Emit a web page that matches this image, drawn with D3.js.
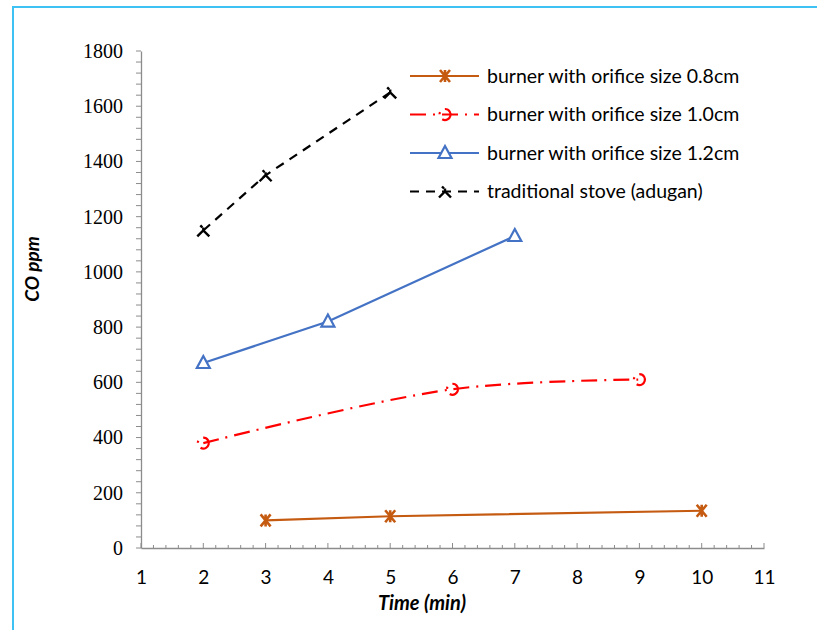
<!DOCTYPE html>
<html>
<head>
<meta charset="utf-8">
<script src="https://cdn.jsdelivr.net/npm/d3@7"></script>
<style>
  body { margin: 0; background: #fff; }
  text { fill: #000; }
</style>
</head>
<body>
<div id="chart"></div>
<script>
// values
var seriesNames = ["burner with orifice size 0.8cm", "burner with orifice size 1.0cm",
                   "burner with orifice size 1.2cm", "traditional stove (adugan)"];
var time08 = [3, 5, 10];
var co08 = [100, 115, 135];
var time10 = [2, 6, 9];
var co10 = [380, 575, 610];
var time12 = [2, 4, 7];
var co12 = [670, 820, 1130];
var timeTrad = [2, 3, 5];
var coTrad = [1150, 1350, 1650];
var xTicks = [1, 2, 3, 4, 5, 6, 7, 8, 9, 10, 11];
var yTicks = [0, 200, 400, 600, 800, 1000, 1200, 1400, 1600, 1800];

var width = 817, height = 630;
var margins = { left: 141, right: 53, top: 51, bottom: 82 };

var svg = d3.select("#chart").append("svg")
    .attr("width", width)
    .attr("height", height);

// cyan frame round the picture
svg.append("path")
    .attr("d", "M13," + height + " L13,7 L" + width + ",7")
    .attr("fill", "none")
    .attr("stroke", "#3EC1F3")
    .attr("stroke-width", 2);

var x = d3.scaleLinear().domain([1, 11]).range([margins.left, width - margins.right]);
var y = d3.scaleLinear().domain([0, 1800]).range([height - margins.bottom, margins.top]);

var axisColor = "#8c8c8c";
var sans = "Lato, 'Open Sans', 'Liberation Sans', sans-serif";

// minor ticks
var g = svg.append("g");
g.selectAll("line.xminor")
    .data(d3.range(1, 11.001, 0.2))
    .enter().append("line")
    .attr("x1", function (d) { return x(d); })
    .attr("x2", function (d) { return x(d); })
    .attr("y1", y(0))
    .attr("y2", function (d, i) { return y(0) - (i % 5 === 0 ? 5 : 3); })
    .attr("stroke", axisColor);

g.selectAll("line.yminor")
    .data(d3.range(0, 1800.001, 40))
    .enter().append("line")
    .attr("x1", x(1))
    .attr("x2", x(1) - 5)
    .attr("y1", function (d) { return y(d); })
    .attr("y2", function (d) { return y(d); })
    .attr("stroke", axisColor);

var xAxis = d3.axisBottom(x).tickValues(xTicks).tickSize(0).tickPadding(23).tickFormat(d3.format("d"));
var yAxis = d3.axisLeft(y).tickValues(yTicks).tickSize(0).tickPadding(18).tickFormat(d3.format("d"));

svg.append("g").attr("class", "x axis")
    .attr("transform", "translate(0," + y(0) + ")")
    .call(xAxis);
svg.append("g").attr("class", "y axis")
    .attr("transform", "translate(" + x(1) + ",0)")
    .call(yAxis);

svg.selectAll(".axis path").attr("stroke", axisColor).attr("stroke-width", 1.3);
svg.selectAll(".y.axis text")
    .style("font-family", "'Liberation Serif', 'DejaVu Serif', serif")
    .style("font-size", "20px")
    .attr("fill", "#000");
svg.selectAll(".x.axis text")
    .style("font-family", sans)
    .style("font-size", "19px")
    .attr("fill", "#000");

svg.append("text")
    .attr("x", 422)
    .attr("y", 610)
    .attr("text-anchor", "middle")
    .style("font-family", sans)
    .style("font-size", "20px")
    .style("font-weight", "bold")
    .style("font-style", "italic")
    .text("Time (min)");

svg.append("text")
    .attr("transform", "translate(39,269) rotate(-90)")
    .attr("text-anchor", "middle")
    .style("font-family", sans)
    .style("font-size", "19px")
    .style("font-weight", "bold")
    .style("font-style", "italic")
    .text("CO ppm");

function toPoints(xs, ys) {
    return xs.map(function (d, i) { return [d, ys[i]]; });
}

var series = [
    { name: seriesNames[0], pts: toPoints(time08, co08), color: "#C55A11", dash: null, marker: "star", curve: d3.curveLinear },
    { name: seriesNames[1], pts: toPoints(time10, co10), color: "#FF0000", dash: "16,7,2,7", marker: "circle", curve: d3.curveCatmullRom.alpha(0.5) },
    { name: seriesNames[2], pts: toPoints(time12, co12), color: "#4472C4", dash: null, marker: "triangle", curve: d3.curveLinear },
    { name: seriesNames[3], pts: toPoints(timeTrad, coTrad), color: "#000000", dash: "9,7", marker: "cross", curve: d3.curveLinear }
];

function drawMarker(sel, s) {
    if (s.marker === "star") {
        sel.append("path")
            .attr("d", "M-5,-6 L5,6 M5,-6 L-5,6 M0,-6 L0,6")
            .attr("fill", "none").attr("stroke", s.color).attr("stroke-width", 2.6);
    } else if (s.marker === "circle") {
        sel.append("circle").attr("r", 5.5)
            .attr("fill", "none").attr("stroke", s.color).attr("stroke-width", 2.2)
            .attr("stroke-dasharray", "14,6,2,6")
            .attr("transform", "rotate(-30)");
    } else if (s.marker === "triangle") {
        sel.append("path")
            .attr("d", "M0,-7 L6.5,5 L-6.5,5 Z")
            .attr("fill", "#fff").attr("stroke", s.color).attr("stroke-width", 2.2);
    } else {
        sel.append("path")
            .attr("d", "M-6,6 L0,0 L6,6 M0,0 L0,-3 M-3,-5 L-1,-3")
            .attr("fill", "none").attr("stroke", s.color).attr("stroke-width", 2.4);
    }
}

var line = d3.line()
    .x(function (d) { return x(d[0]); })
    .y(function (d) { return y(d[1]); });

series.forEach(function (s) {
    svg.append("path")
        .datum(s.pts)
        .attr("d", line.curve(s.curve))
        .attr("fill", "none")
        .attr("stroke", s.color)
        .attr("stroke-width", 2.2)
        .attr("stroke-dasharray", s.dash);

    svg.selectAll(null)
        .data(s.pts)
        .enter().append("g")
        .attr("transform", function (d) { return "translate(" + x(d[0]) + "," + y(d[1]) + ")"; })
        .each(function () { drawMarker(d3.select(this), s); });
});

// legend
var legend = svg.append("g").attr("transform", "translate(410,76)");
series.forEach(function (s, i) {
    var item = legend.append("g").attr("transform", "translate(0," + (i * 38.5) + ")");
    item.append("line")
        .attr("x1", 0).attr("x2", 69)
        .attr("stroke", s.color).attr("stroke-width", 2.2)
        .attr("stroke-dasharray", s.dash);
    var m = item.append("g").attr("transform", "translate(35,0)");
    drawMarker(m, s);
    item.append("text")
        .attr("x", 77)
        .attr("dy", "0.35em")
        .style("font-family", sans)
        .style("font-size", "19.5px")
        .text(s.name);
});
</script>
</body>
</html>
